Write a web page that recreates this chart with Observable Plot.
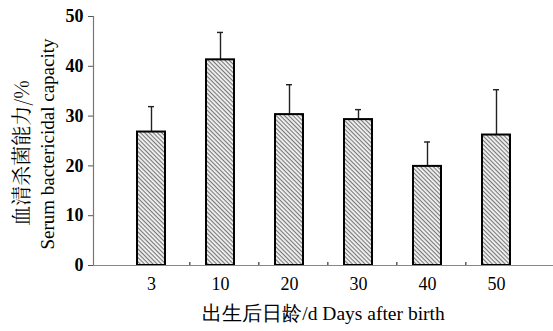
<!DOCTYPE html>
<html>
<head>
<meta charset="utf-8">
<script src="https://cdn.jsdelivr.net/npm/d3@7"></script>
<script src="https://cdn.jsdelivr.net/npm/@observablehq/plot@0.6"></script>
<style>
  html, body { margin: 0; padding: 0; background: #fff; }
  #chart svg { display: block; }
  #chart svg text { font-family: "Liberation Serif", "Times New Roman", serif; }
  #chart svg g.cjk text { font-family: "Noto Serif CJK SC", "Noto Sans CJK SC", serif; }
</style>
</head>
<body>
<div id="chart"></div>
<script>
const days = ["3", "10", "20", "30", "40", "50"];
const capacity = [26.8, 41.3, 30.3, 29.3, 19.9, 26.2];
const errorSD = [5.1, 5.5, 6.0, 2.0, 4.9, 9.1];
const yTicks = [0, 10, 20, 30, 40, 50];
const yTitleZh = "血清杀菌能力/%";
const yTitleEn = "Serum bactericidal capacity";
const xTitle = "出生后日龄/d Days after birth";

const data = days.map((d, i) => ({day: d, value: capacity[i], err: errorSD[i], top: capacity[i] + errorSD[i]}));

const W = 553, H = 331, ML = 93, MR = 0, MT = 16, MB = 66;
const step = (W - ML - MR) / days.length;

const chart = Plot.plot({
  width: W,
  height: H,
  marginLeft: ML,
  marginRight: MR,
  marginTop: MT,
  marginBottom: MB,
  style: {fontSize: "16px", color: "#000", background: "#fff"},
  x: {domain: days, padding: 0.6, axis: null},
  y: {domain: [0, 50], axis: null},
  marks: [
    // y axis line
    Plot.frame({anchor: "left", stroke: "#777", strokeWidth: 1.2}),
    Plot.axisY({ticks: yTicks, tickSize: 5, tickPadding: 5, stroke: "#555", fontSize: 18, fontWeight: "bold", fill: "#000", label: null}),
    // errors
    Plot.ruleX(data, {x: "day", y1: "value", y2: "top", stroke: "#222", strokeWidth: 1.4}),
    Plot.tickY(data, {x: "day", y: "top", stroke: "#222", strokeWidth: 1.4, insetLeft: 11, insetRight: 11}),
    // bars
    Plot.barY(data, {x: "day", y: "value", fill: "url(#hatch)", stroke: "#000", strokeWidth: 2}),
    // x axis line
    Plot.ruleY([0], {stroke: "#888", strokeWidth: 1.2}),
    // x ticks between bands
    Plot.ruleX(days.slice(0, -1), {x: d => d, y1: 0, y2: 0.6, dx: step / 2, stroke: "#333", strokeWidth: 1.2}),
    Plot.axisX({tickSize: 0, tickPadding: 12, fontSize: 18, fill: "#000", label: null}),
    // titles
    Plot.text([xTitle], {frameAnchor: "bottom", dy: 54, fontSize: 19.5, fill: "#000"}),
    Plot.text([yTitleZh], {frameAnchor: "left", textAnchor: "middle", rotate: -90, dx: -71, dy: 12, fontSize: 20, fill: "#000", className: "cjk"}),
    Plot.text([yTitleEn], {frameAnchor: "left", textAnchor: "middle", rotate: -90, dx: -46, dy: 3, fontSize: 19, fill: "#000"})
  ]
});

const svg = d3.select(chart);
// mark the Chinese title group
svg.selectAll("g[aria-label='text']").filter(function() {
  return d3.select(this).text() === yTitleZh;
}).classed("cjk", true);

const defs = svg.insert("defs", ":first-child");
const pat = defs.append("pattern")
  .attr("id", "hatch")
  .attr("patternUnits", "userSpaceOnUse")
  .attr("width", 3)
  .attr("height", 3)
  .attr("patternTransform", "rotate(45)");
pat.append("rect").attr("width", 3).attr("height", 3).attr("fill", "#f2f2f2");
pat.append("rect").attr("width", 3).attr("height", 1.1).attr("fill", "#777");

document.getElementById("chart").appendChild(chart);
</script>
</body>
</html>
